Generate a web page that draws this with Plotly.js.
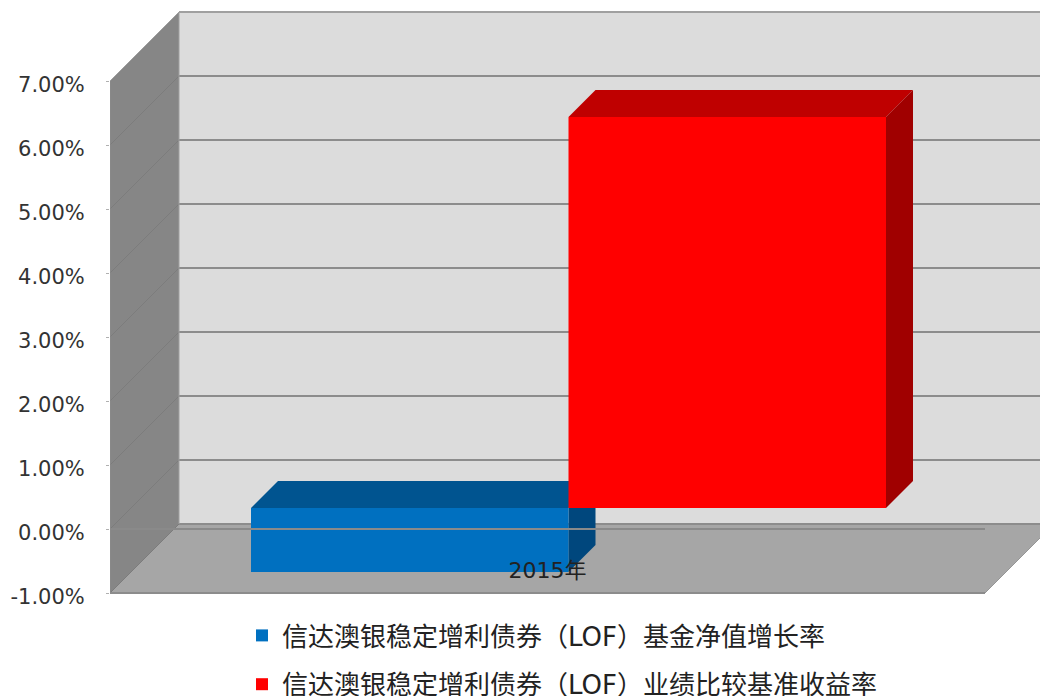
<!DOCTYPE html>
<html>
<head>
<meta charset="utf-8">
<script src="https://cdn.plot.ly/plotly-3.0.1.min.js"></script>
<style>html,body{margin:0;padding:0;background:#fff;overflow:hidden}#chart{width:1040px;height:696px}</style>
</head>
<body>
<div id="chart"></div>
<script>
const categories = ['2015年'];
const seriesNames = ['信达澳银稳定增利债券（LOF）基金净值增长率', '信达澳银稳定增利债券（LOF）业绩比较基准收益率'];
const seriesValues = [-1.0, 6.11];
const tickValues = [-1, 0, 1, 2, 3, 4, 5, 6, 7];
const tickLabels = ['-1.00%', '0.00%', '1.00%', '2.00%', '3.00%', '4.00%', '5.00%', '6.00%', '7.00%'];
const frontColors = ['#0070c0', '#ff0000'];
const topColors = ['#005490', '#bf0000'];
const sideColors = ['#00477d', '#a00000'];

const W = 1040, H = 696, L = 110, B = 103;
const pxX = 875, pxY = 64;
const DX = 69 / pxX, DY = 69 / pxY;
const d0 = 21 / 69, d1 = 48 / 69;
const barW = 317.5 / pxX;
const yMin = tickValues[0], yTop = tickValues[tickValues.length - 1];
const xMax = (W - L) / pxX, yMax = yMin + (H - B) / pxY, yLow = yMin - B / pxY;

const P = (x, v, d) => [x + d * DX, v + d * DY];
const poly = pts => 'M' + pts.map(p => p.join(',')).join('L') + 'Z';
const polyShape = (pts, fill, layer) => ({type: 'path', xref: 'x', yref: 'y', path: poly(pts), fillcolor: fill, line: {width: 0}, layer: layer || 'below'});
const seg = (a, b, color, width, layer) => ({type: 'line', xref: 'x', yref: 'y', x0: a[0], y0: a[1], x1: b[0], y1: b[1], line: {color, width}, layer: layer || 'below'});

const shapes = [];
// back wall, side wall, floor
shapes.push(polyShape([P(0, yMin, 1), P(xMax, yMin, 1), P(xMax, yTop, 1), P(0, yTop, 1)], '#dcdcdc'));
shapes.push(polyShape([P(0, yMin, 0), P(0, yMin, 1), P(0, yTop, 1), P(0, yTop, 0)], '#868686'));
shapes.push(polyShape([P(0, yMin, 0), P(1, yMin, 0), P(1, yMin, 1), P(0, yMin, 1)], '#a6a6a6'));
tickValues.forEach(v => {
  shapes.push(seg(P(0, v, 1), P(xMax, v, 1), '#8c8c8c', 2));
  shapes.push(seg(P(0, v, 0), P(0, v, 1), '#7c7c7c', 1));
});
shapes.push(seg(P(0, yMin, 0), P(1, yMin, 0), '#8c8c8c', 2));
shapes.push(seg(P(1, yMin, 0), P(1, yMin, 1), '#969696', 1));
shapes.push(seg(P(0, yMin, 0), P(0, yTop, 0), '#8c8c8c', 1));
shapes.push(seg(P(0, yTop, 0), P(0, yTop, 1), '#a0a0a0', 1));
shapes.push(seg(P(0, yTop, 1), P(xMax, yTop, 1), '#a0a0a0', 2));
shapes.push(seg(P(0, yMin, 1), P(0, yTop, 1), '#a0a0a0', 1));

const traces = [];
seriesValues.forEach((v, i) => {
  const left = 0.5 - barW + i * barW, right = left + barW;
  const base = d0 * DY;
  // top and side faces, drawn behind the front faces
  const hi = Math.max(0, v), lo = Math.min(0, v);
  shapes.push(polyShape([P(left, hi, d0), P(right, hi, d0), P(right, hi, d1), P(left, hi, d1)], topColors[i]));
  shapes.push(polyShape([P(right, lo, d0), P(right, lo, d1), P(right, hi, d1), P(right, hi, d0)], sideColors[i]));
  traces.push({
    type: 'bar', name: seriesNames[i], legendgroup: 'g' + i,
    x: [left + barW / 2 + d0 * DX], y: [v], base: [base], width: [barW],
    marker: {color: frontColors[i], line: {width: 0}},
    hoverinfo: 'skip', xaxis: 'x', yaxis: 'y'
  });
});
// axis line at zero lies on top of the bars
shapes.push(seg([0, 0], [1, 0], '#8a8a8a', 2, 'above'));

const layout = {
  width: W, height: H,
  margin: {l: L, r: 0, t: 0, b: 0, pad: 0, autoexpand: false},
  paper_bgcolor: '#ffffff', plot_bgcolor: '#ffffff',
  barmode: 'overlay', showlegend: true, shapes,
  font: {family: '"DejaVu Sans", "Noto Sans CJK SC", sans-serif', color: '#222222'},
  xaxis: {
    range: [0, xMax], anchor: 'free', position: (0 - yLow) / (yMax - yLow),
    tickmode: 'array', tickvals: [0.5], ticktext: categories,
    showgrid: false, zeroline: false, showline: false, ticks: '',
    ticklabelstandoff: 26, tickfont: {size: 22, color: '#222222'}, tickangle: 0
  },
  yaxis: {
    range: [yLow, yMax], tickmode: 'array', tickvals: tickValues, ticktext: tickLabels,
    showgrid: false, zeroline: false, showline: false,
    ticks: 'outside', ticklen: 3, tickcolor: '#b0b0b0', tickwidth: 1,
    ticklabelstandoff: 17, ticklabelshift: 4, tickfont: {size: 21, color: '#333333'}
  },
  legend: {
    x: (242 - L) / (W - L), xanchor: 'left', y: (H - 612) / H, yanchor: 'top',
    orientation: 'v', traceorder: 'grouped', tracegroupgap: 12,
    bgcolor: 'rgba(0,0,0,0)', borderwidth: 0,
    font: {size: 26, color: '#222222', family: '"DejaVu Sans", "Noto Sans CJK SC", sans-serif'}
  }
};
Plotly.newPlot('chart', traces, layout, {displayModeBar: false, staticPlot: true});
</script>
</body>
</html>
